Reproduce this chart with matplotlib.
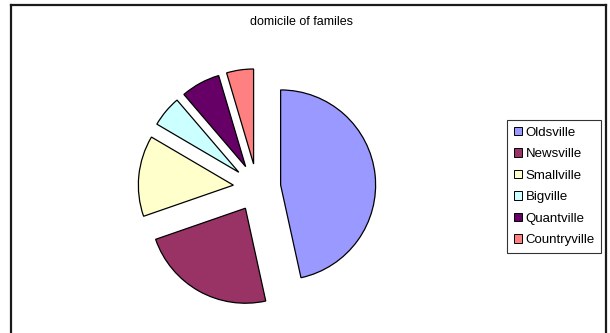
import matplotlib
matplotlib.use("Agg")
import matplotlib.pyplot as plt
from matplotlib.lines import Line2D
from matplotlib.patches import Patch

plt.rcParams['font.family'] = ['Liberation Sans', 'DejaVu Sans']

# data (share of families, %)
towns = ['Oldsville', 'Newsville', 'Smallville', 'Bigville', 'Quantville', 'Countryville']
shares = [46.7, 23.2, 13.8, 5.3, 6.7, 4.6]
colors = ['#9999FF', '#993366', '#FFFFCC', '#CCFFFF', '#660066', '#FF8080']

W, H = 610, 333
fig = plt.figure(figsize=(W / 100, H / 100), dpi=100)
fig.patch.set_facecolor('white')

# axes over the whole figure, 1 data unit = 95 px
cx, cy, r = 257, 187.5, 95
ax = fig.add_axes([0, 0, 1, 1])
ax.pie(shares, colors=colors, startangle=90, counterclock=False,
       explode=[0.25] * len(shares),
       wedgeprops=dict(edgecolor='black', linewidth=0.9))
ax.set_xlim(-cx / r, (W - cx) / r)
ax.set_ylim(-(H - cy) / r, cy / r)
ax.set_aspect('auto')
ax.axis('off')

# chart frame (bottom runs off the picture)
fr = dict(color='#1a1a1a', lw=1.6, transform=fig.transFigure)
fig.add_artist(Line2D([11 / W, 11 / W], [0, 1 - 5 / H], **fr))
fig.add_artist(Line2D([11 / W, 606 / W], [1 - 5 / H, 1 - 5 / H], **fr))
fig.add_artist(Line2D([606 / W, 606 / W], [0, 1 - 5 / H], **fr))

fig.text(301 / W, 1 - 22 / H, 'domicile of familes', ha='center', va='center', fontsize=9)

handles = [Patch(facecolor=c, edgecolor='black', linewidth=0.7) for c in colors]
leg = fig.legend(handles, towns, loc='upper left', bbox_to_anchor=(507 / W, 1 - 120 / H),
                 fontsize=9.5, frameon=True, fancybox=False, edgecolor='black',
                 handlelength=0.6, handleheight=0.6, handletextpad=0.3,
                 labelspacing=0.72, borderpad=0.5, borderaxespad=0)
leg.get_frame().set_linewidth(0.8)

fig.savefig('out.png', dpi=100)
